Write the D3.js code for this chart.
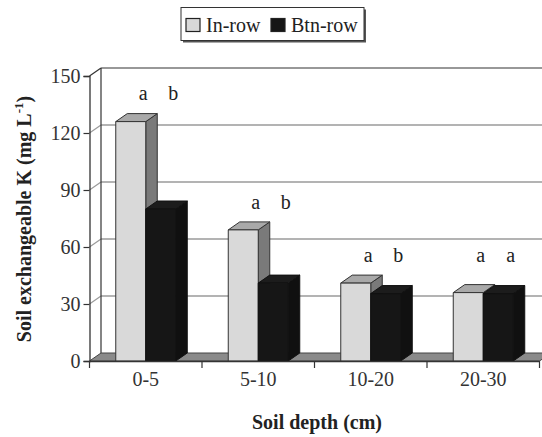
<!DOCTYPE html>
<html><head><meta charset="utf-8">
<script src="https://cdn.jsdelivr.net/npm/d3@7"></script>
</head><body style="margin:0">
<script>
const categories = ["0-5","5-10","10-20","20-30"];
const seriesNames = ["In-row","Btn-row"];
const inRow = [126, 69, 41, 36];
const btnRow = [80, 41, 35.5, 35.5];
const lettersIn = ["a","a","a","a"];
const lettersBtn = ["b","b","b","a"];
const letterLevel = [133, 76, 47.7, 47.7];
const yTicks = [0,30,60,90,120,150];

const FONT="'Times New Roman'";
const W=542,H=437;
const svg=d3.select("body").append("svg").attr("width",W).attr("height",H).style("display","block");
const x0=89.5,x1=539.5,yBase=361,yTop=76;
const DX=11.5, DY=-8;
const x=d3.scaleBand().domain(categories).range([x0,x1]).padding(0);
const y=d3.scaleLinear().domain([0,150]).range([yBase,yTop]);
const barW=30;
const series=[{name:seriesNames[0],vals:inRow,front:"#d9d9d9",top:"#a9a9a9",side:"#7a7a7a",stroke:"#333",off:-barW},
              {name:seriesNames[1],vals:btnRow,front:"#161616",top:"#1c1c1c",side:"#101010",stroke:"#111",off:0}];

const grid=svg.append("g");
yTicks.forEach(t=>{
  if(t===0) return;
  grid.append("line").attr("x1",x0+DX).attr("x2",W+5).attr("y1",y(t)+DY).attr("y2",y(t)+DY)
    .attr("stroke",t===150?"#333":"#9a9a9a").attr("stroke-width",t===150?1.2:1.5);
  grid.append("line").attr("x1",x0).attr("y1",y(t)).attr("x2",x0+DX).attr("y2",y(t)+DY)
    .attr("stroke",t===150?"#333":"#9a9a9a").attr("stroke-width",1.2);
});
svg.append("line").attr("x1",x0+DX).attr("x2",x0+DX).attr("y1",y(0)+DY).attr("y2",y(150)+DY).attr("stroke","#333").attr("stroke-width",1.2);
svg.append("path").attr("d",`M${x0},${y(0)}L${x1},${y(0)}L${x1+DX},${y(0)+DY}L${x0+DX},${y(0)+DY}Z`)
  .attr("fill","#8a8a8a").attr("stroke","#444").attr("stroke-width",1);

const bars=svg.append("g");
categories.forEach((c,i)=>{
  const cx=x(c)+x.bandwidth()/2;
  series.forEach(s=>{
    const l=cx+s.off, r=l+barW, t=y(s.vals[i]), b=y(0);
    const g=bars.append("g").attr("stroke",s.stroke).attr("stroke-width",1).attr("stroke-linejoin","round");
    g.append("path").attr("d",`M${r},${b}L${r+DX},${b+DY}L${r+DX},${t+DY}L${r},${t}Z`).attr("fill",s.side);
    g.append("path").attr("d",`M${l},${t}L${l+DX},${t+DY}L${r+DX},${t+DY}L${r},${t}Z`).attr("fill",s.top);
    g.append("rect").attr("x",l).attr("y",t).attr("width",barW).attr("height",b-t).attr("fill",s.front);
  });
  const ly=y(letterLevel[i])+DY;
  svg.append("text").attr("x",cx-barW/2+DX+1).attr("y",ly).attr("text-anchor","middle").attr("font-size",20).attr("fill","#222").style("font-family",FONT).text(lettersIn[i]);
  svg.append("text").attr("x",cx+barW/2+DX+1).attr("y",ly).attr("text-anchor","middle").attr("font-size",20).attr("fill","#222").style("font-family",FONT).text(lettersBtn[i]);
});

const ya=svg.append("g").attr("transform",`translate(${x0},0)`)
  .call(d3.axisLeft(y).tickValues(yTicks).tickSize(6).tickPadding(3));
ya.select(".domain").attr("stroke","#333").attr("stroke-width",1.3);
ya.selectAll(".tick line").attr("stroke","#333").attr("stroke-width",1.2);
ya.selectAll("text").attr("fill","#333").attr("font-size",20).style("font-family",FONT);

const xa=svg.append("g").attr("transform",`translate(0,${yBase})`)
  .call(d3.axisBottom(x).tickSize(0).tickPadding(14));
xa.select(".domain").attr("stroke","#333").attr("stroke-width",1.3);
xa.selectAll("text").attr("fill","#333").attr("font-size",20).style("font-family",FONT).attr("dy","0.55em");
const divs=categories.map(c=>x(c)).concat([x1]);
xa.selectAll(".div").data(divs).enter().append("line").attr("x1",d=>d).attr("x2",d=>d).attr("y1",0).attr("y2",7).attr("stroke","#333").attr("stroke-width",1.2);

const yt=svg.append("text").attr("transform",`translate(31,219) rotate(-90)`).attr("text-anchor","middle")
  .attr("font-size",20).attr("font-weight","bold").attr("fill","#222").style("font-family",FONT);
yt.append("tspan").text("Soil exchangeable K (mg L");
yt.append("tspan").attr("dy",-8).attr("font-size",13).text("-1");
yt.append("tspan").attr("dy",8).text(")");
svg.append("text").attr("x",317).attr("y",429).attr("text-anchor","middle").attr("font-size",20).attr("font-weight","bold").attr("fill","#222").style("font-family",FONT).text("Soil depth (cm)");

const lg=svg.append("g");
lg.append("rect").attr("x",183).attr("y",9.5).attr("width",183).attr("height",33).attr("fill","#555");
lg.append("rect").attr("x",181).attr("y",7.5).attr("width",183).attr("height",33).attr("fill","#fff").attr("stroke","#333").attr("stroke-width",1);
const lx=[186,271], tx=[206,291];
series.forEach((s,k)=>{
  lg.append("rect").attr("x",lx[k]).attr("y",18.5).attr("width",14).attr("height",13).attr("fill",s.front).attr("stroke","#222").attr("stroke-width",1.2);
  lg.append("text").attr("x",tx[k]).attr("y",31.5).attr("font-size",20).attr("fill","#222").style("font-family",FONT).text(s.name);
});
</script></body></html>
